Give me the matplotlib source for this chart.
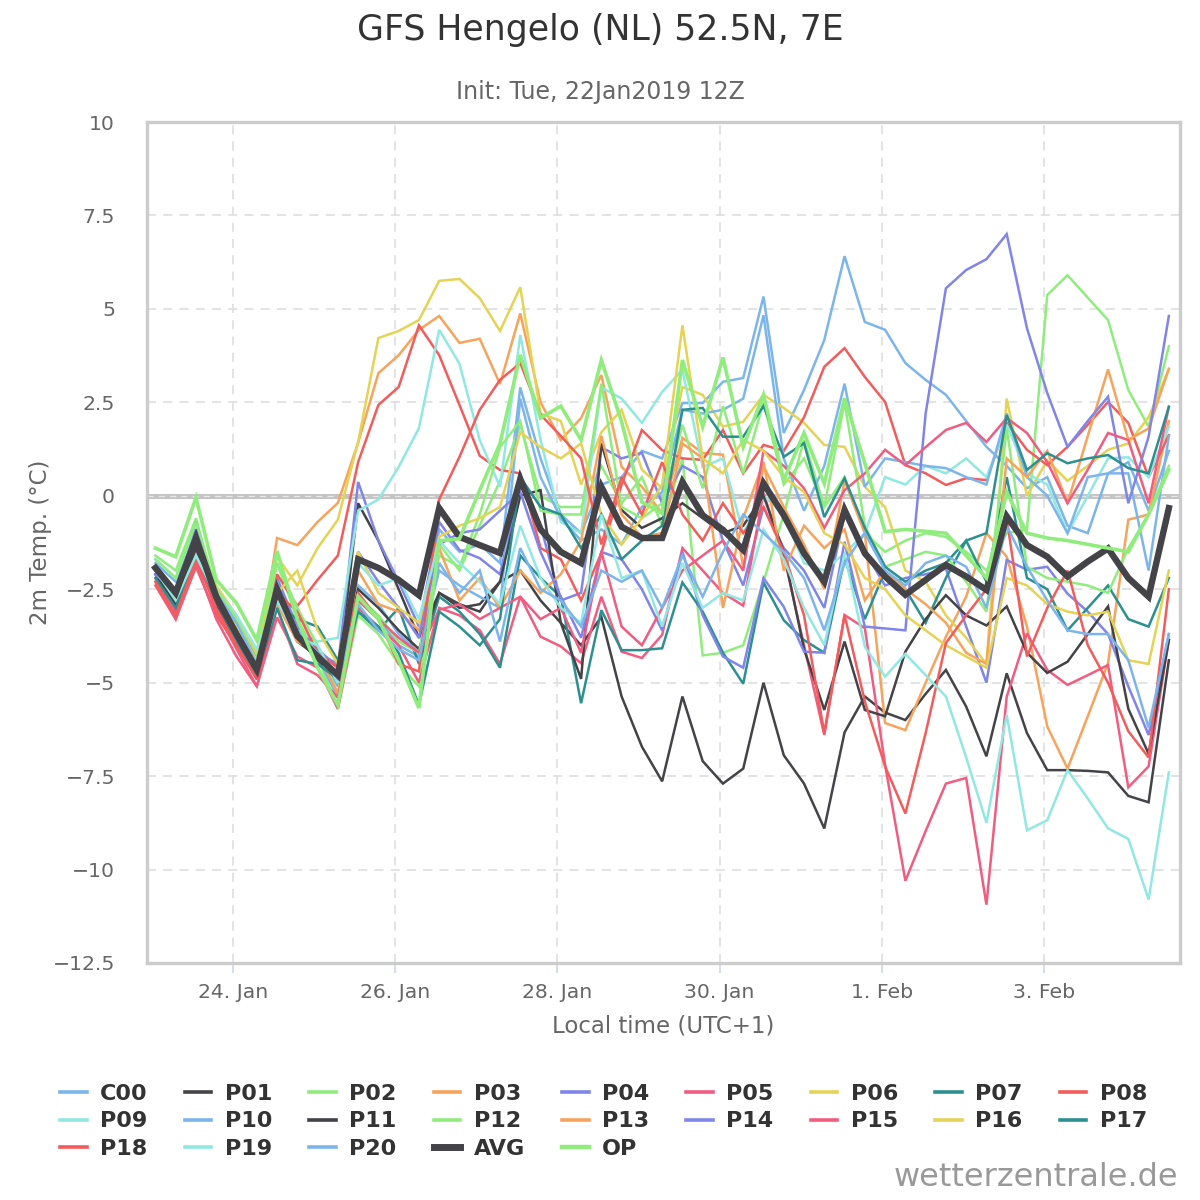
import datetime as dt
import matplotlib
matplotlib.use("Agg")
import matplotlib.pyplot as plt
from matplotlib.ticker import FixedLocator, FuncFormatter
from matplotlib.lines import Line2D
import matplotlib.dates as mdates

plt.rcParams['font.family'] = ['DejaVu Sans']

# ---------------- data ----------------
START = dt.datetime(2019, 1, 23, 1, 0)   # first value, local time (UTC+1)
STEP_HOURS = 6
N_STEPS = 51
times = [START + dt.timedelta(hours=STEP_HOURS * i) for i in range(N_STEPS)]

C00 = [-1.8, -2.3, -0.8, -2.5, -3.3, -4.3, -2.6, -3.4, -4.2, -5.1,
       -2.8, -3.3, -4.0, -4.3, -0.9, -1.5, -1.3, -1.8, 2.9, 1.0,
       -0.5, -1.0, 0.3, 0.5, 1.2, 1.0, 2.48, 2.48, 3.05, 3.15,
       5.33, 1.68, 2.83, 4.17, 6.41, 4.65, 4.44, 3.55, 3.1, 2.7,
       2.0, 1.31, 0.8, 0.2, 0.5, -0.8, -1.0, 0.6, 0.9, -0.4,
       1.2]
P01 = [-2.0, -2.7, -1.3, -2.8, -3.8, -4.8, -2.6, -3.9, -4.3, -4.9,
       -0.2, -1.2, -2.5, -3.8, -2.6, -3.0, -2.9, -2.3, -2.0, -2.8,
       -3.4, -4.0, -3.24, -5.37, -6.71, -7.64, -5.37, -7.1, -7.7, -7.3,
       -5.0, -6.94, -7.7, -8.9, -6.33, -5.37, -5.8, -6.0, -5.3, -4.66,
       -5.64, -6.97, -4.75, -6.35, -7.34, -7.34, -7.36, -7.4, -8.03, -8.2,
       -4.4]
P02 = [-1.6, -2.0, -0.6, -2.6, -3.2, -4.3, -1.8, -3.3, -4.3, -5.7,
       -3.2, -3.7, -4.5, -5.1, -1.3, -2.0, -0.8, 0.4, 1.9, 0.0,
       -0.3, -0.3, 0.8, -0.2, 0.5, -0.8, 1.0, -4.27, -4.2, -4.0,
       -2.3, -0.5, 1.5, -0.3, 0.5, -1.0, -1.5, -1.2, -1.0, -1.1,
       -1.5, -2.0, -1.0, -0.9, 5.37, 5.9, 5.3, 4.7, 2.83, 1.85,
       4.0]
P03 = [-2.2, -2.9, -1.5, -2.8, -3.6, -4.6, -1.13, -1.32, -0.7, -0.19,
       1.42, 3.28, 3.76, 4.44, 4.81, 4.09, 4.2, 2.99, 4.88, 2.5,
       1.49, 2.08, 3.23, 0.77, 0.24, -0.47, 1.55, 1.14, 1.1, -1.9,
       0.8, -0.3, -1.3, -2.5, 0.4, -1.0, -6.08, -6.27, -5.0, -3.77,
       -2.7, -1.0, -1.63, -3.5, -6.17, -7.3, -5.9, -4.48, -0.64, -0.5,
       2.0]
P04 = [-1.9, -2.5, -0.7, -2.6, -3.4, -4.4, -2.2, -3.5, -4.1, -4.6,
       0.37, -1.2, -2.3, -3.5, -0.7, -1.45, -1.67, -2.1, 0.3, -0.8,
       -2.8, -2.6, 1.3, 1.0, 1.15, -0.2, 0.8, 0.5, -1.2, -2.4,
       -0.3, -1.4, -2.0, -3.0, -0.5, -1.5, -2.4, -2.2, -2.1, -1.95,
       -3.5, -5.0, -1.72, -1.98, -1.9, -2.62, -3.1, -3.7, -5.1, -6.4,
       -3.7]
P05 = [-2.2, -3.1, -1.5, -3.1, -4.1, -5.1, -3.25, -4.3, -4.6, -5.7,
       -3.0, -3.5, -4.0, -5.0, -3.0, -3.2, -3.6, -4.5, -2.7, -3.77,
       -4.03, -4.48, -2.7, -4.17, -4.34, -3.72, -1.4, -2.0, -2.6, -2.94,
       0.08, -1.6, -4.0, -6.4, -3.19, -3.54, -7.2, -10.3, -8.97, -7.7,
       -7.55, -10.94, -5.38, -3.68, -4.66, -5.06, -4.8, -4.53, -7.8, -7.24,
       -3.86]
P06 = [-1.9, -2.5, -1.0, -2.4, -3.2, -4.2, -1.63, -2.4, -1.4, -0.64,
       1.44, 4.22, 4.41, 4.7, 5.75, 5.8, 5.29, 4.41, 5.58, 2.2,
       2.0, 0.3, 1.7, 2.3, 0.7, 0.2, 2.91, 2.7, 1.85, 1.98,
       2.7, 2.35, 1.95, 1.36, 1.31, 0.24, -0.3, -2.0, -2.3, -3.2,
       -3.8, -4.5, 2.6, 0.0, 0.95, 0.4, 0.8, 1.23, 1.4, 2.1,
       3.38]
P07 = [-2.1, -2.8, -1.3, -2.9, -3.8, -4.9, -2.9, -3.3, -3.5, -4.4,
       -3.1, -3.6, -3.0, -4.5, -2.7, -3.1, -3.7, -4.6, -1.6, -2.2,
       -2.7, -5.55, -3.06, -4.13, -4.13, -4.08, -2.32, -3.1, -4.2, -5.03,
       -2.32, -3.33, -3.86, -4.2, -1.67, -3.3, -2.0, -2.5, -3.4, -2.2,
       -1.2, -2.3, 0.5, -2.2, -2.5, -3.6, -3.0, -2.4, -3.3, -3.5,
       -2.2]
P08 = [-2.4, -3.3, -1.9, -3.2, -4.0, -4.9, -2.1, -2.95, -2.25, -1.6,
       0.9, 2.43, 2.91, 4.56, 3.76, 2.43, 1.07, 0.69, 0.6, -1.4,
       -1.7, -2.8, -1.53, 0.3, 1.76, 1.22, 1.0, 0.96, 1.76, 0.6,
       1.36, 1.2, 2.1, 3.45, 3.95, 3.18, 2.51, 0.82, 0.6, 0.29,
       0.47, 0.42, 1.95, 1.23, 0.82, 1.31, 1.9, 2.51, 1.95, 0.5,
       1.62]
P09 = [-1.7, -2.2, -0.8, -2.5, -3.2, -4.1, -2.5, -3.6, -3.9, -3.8,
       -0.4, -0.1, 0.77, 1.81, 4.44, 3.53, 1.49, 0.24, 4.3, 1.5,
       -0.7, -1.0, 2.9, 2.6, 1.95, 2.78, 3.37, 0.77, 1.0, -1.0,
       0.0, -0.5, -1.8, -2.0, -1.54, -1.0, 0.5, 0.3, 0.8, 0.6,
       1.0, 0.5, 1.9, 0.6, 0.3, -1.0, 0.0, 1.0, 1.03, 0.5,
       1.85]
P10 = [-2.0, -2.5, -0.9, -2.6, -3.5, -4.4, -2.3, -3.7, -4.3, -5.4,
       -2.4, -2.9, -3.7, -4.2, -2.0, -2.4, -2.7, -3.0, 2.6, 0.5,
       -0.6, -1.2, -0.9, -1.3, -0.3, 0.1, 2.3, 2.2, 2.3, 2.6,
       4.83, 1.0, -0.4, 0.8, 3.0, 0.24, 1.0, 0.9, 0.8, 0.74,
       0.5, 0.3, 2.2, 0.5, 0.0, -1.0, 0.5, 0.6, 0.6, -2.0,
       1.6]
P11 = [-2.1, -2.9, -1.4, -2.9, -3.9, -4.9, -2.8, -3.6, -4.4, -4.9,
       -2.5, -3.0, -3.6, -4.1, -2.6, -2.9, -3.1, -2.3, 0.0, 0.15,
       -3.4, -4.9, 1.4, -0.38, -0.86, -0.6, -0.2, -0.6, -1.0, -0.8,
       0.0, -1.5, -4.1, -5.73, -3.9, -5.73, -5.9, -4.17, -3.3, -2.66,
       -3.2, -3.47, -2.96, -4.2, -4.74, -4.44, -3.7, -2.96, -5.7, -6.9,
       -3.86]
P12 = [-1.7, -2.2, -0.7, -2.5, -3.3, -4.5, -1.8, -3.0, -4.0, -5.3,
       -2.7, -3.2, -3.9, -4.2, -1.6, -1.9, -0.5, 1.3, 2.0, -0.4,
       -0.5, -0.5, 3.0, -0.3, -0.6, -0.2, 1.9, 0.2, 2.4, 0.6,
       2.5, 0.3, 1.0, -0.3, 2.5, -0.8, -1.9, -1.7, -1.5, -1.6,
       -2.3, -3.1, 1.8, -1.9, -2.2, -2.3, -2.4, -2.6, -1.4, -0.5,
       0.8]
P13 = [-2.0, -2.6, -1.1, -2.7, -3.6, -4.7, -2.9, -3.9, -4.2, -5.3,
       -2.0, -2.9, -3.1, -3.6, -1.4, -2.8, -2.2, -3.0, -2.0, -2.6,
       -2.1, -1.2, 1.6, -0.5, -1.1, -1.0, 1.4, 1.0, -3.0, -0.6,
       0.9, -2.0, -0.8, -1.4, -0.9, -2.8, -2.0, -2.5, -2.9, -3.4,
       -4.2, -4.5, 1.0, 0.5, 1.2, -0.2, 1.6, 3.38, 1.5, 1.8,
       3.4]
P14 = [-2.1, -2.6, -0.9, -2.7, -3.6, -4.5, -2.4, -3.8, -4.2, -4.5,
       -1.5, -2.3, -3.0, -3.8, -1.3, -1.0, -0.9, -0.4, 0.1, -1.5,
       -2.7, -3.8, -1.5, -1.7, -2.5, -3.6, -1.5, -3.2, -4.3, -4.6,
       -2.2, -2.97, -4.17, -4.2, -1.23, -3.5, -3.55, -3.6, 2.2, 5.55,
       6.04, 6.33, 7.0, 4.48, 2.75, 1.31, 2.0, 2.65, -0.2, 1.58,
       4.81]
P15 = [-2.3, -3.3, -1.8, -3.3, -4.3, -5.1, -3.0, -4.5, -4.8, -5.4,
       -2.8, -3.3, -3.8, -4.2, -3.05, -2.9, -3.3, -3.0, -2.7, -3.3,
       -3.0, -4.2, -1.5, -3.5, -4.0, -3.0, -2.0, -1.6, -1.2, -2.0,
       1.2, 0.8, 0.2, -0.86, 0.15, 0.6, 1.23, 0.82, 1.3, 1.76,
       1.95, 1.44, 2.08, 1.68, 0.9, -0.2, 0.7, 1.68, 1.49, -0.2,
       2.38]
P16 = [-2.0, -2.7, -1.2, -2.7, -3.5, -4.4, -2.6, -2.0, -3.6, -4.5,
       -1.5, -2.6, -3.0, -3.4, -1.1, -0.8, -0.6, -0.3, 1.7, 1.3,
       1.0, 1.4, -0.5, -1.3, -0.6, 0.3, 4.56, 1.0, 0.6, 1.5,
       1.2, 0.5, 0.1, -1.0, -1.3, -2.2, -2.5, -3.2, -3.6, -4.0,
       -4.3, -4.6, -2.2, -2.4, -2.9, -3.1, -3.2, -3.1, -4.4, -4.5,
       -2.0]
P17 = [-2.2, -3.0, -1.6, -2.8, -3.9, -4.8, -3.0, -4.4, -4.5, -4.9,
       -3.1, -3.5, -4.2, -5.6, -3.1, -3.5, -4.0, -3.3, 0.5, -0.3,
       -0.5, -1.4, -0.5, -1.7, -1.2, -0.8, 2.3, 2.35, 1.58, 1.58,
       2.4, 1.04, 1.41, -0.57, 0.47, -0.86, -1.9, -2.3, -2.0, -1.8,
       -1.2, -1.0, 2.16, 0.69, 1.14, 0.87, 1.0, 1.09, 0.74, 0.6,
       2.38]
P18 = [-2.3, -3.2, -1.7, -3.0, -4.0, -4.9, -2.6, -3.1, -4.2, -4.6,
       -2.6, -3.3, -4.5, -4.7, -0.1, 1.04, 2.3, 3.1, 3.55, 2.17,
       1.6, 1.0, -1.3, 0.5, -0.5, 0.9, -0.5, -1.2, -0.2, -1.0,
       -0.3, -1.5, -3.2, -6.35, -3.19, -5.5, -7.24, -8.5, -6.35, -3.94,
       -3.2, -2.5, -0.6, -4.3, -3.0, -2.0, -4.0, -5.0, -6.3, -7.0,
       -2.5]
P19 = [-2.0, -2.8, -1.6, -2.7, -3.7, -4.7, -2.8, -3.8, -4.0, -5.0,
       -1.8, -2.4, -2.2, -3.3, -1.2, -1.8, -2.3, -2.9, -0.8, -2.2,
       -3.0, -3.4, -0.5, -2.2, -2.0, -3.5, -1.8, -3.0, -2.6, -2.8,
       -0.9, -1.7, -3.0, -4.0, -1.54, -4.04, -4.84, -4.23, -4.8, -5.37,
       -7.0, -8.75, -5.86, -8.95, -8.68, -7.34, -8.1, -8.9, -9.18, -10.8,
       -7.4]
P20 = [-1.9, -2.6, -1.0, -2.6, -3.4, -4.5, -2.4, -3.6, -4.2, -4.9,
       -2.9, -3.6, -4.1, -4.4, -1.8, -2.6, -2.0, -3.9, -1.4, -2.5,
       -2.8, -3.5, -2.0, -2.3, -2.0, -3.0, -1.6, -2.7, -1.5, -0.5,
       -1.0, -1.5, -2.2, -3.6, -1.8, -1.0, -2.0, -2.4, -1.8, -1.6,
       -1.9, -3.0, -0.8, -1.9, -2.8, -3.6, -3.7, -3.7, -4.4, -6.2,
       -3.7]
AVG = [-1.93, -2.6, -1.13, -2.7, -3.7, -4.65, -2.5, -3.75, -4.3, -4.8,
       -1.7, -1.93, -2.25, -2.66, -0.33, -1.1, -1.32, -1.53, 0.45, -0.9,
       -1.5, -1.8, 0.24, -0.83, -1.13, -1.13, 0.37, -0.52, -0.91, -1.45,
       0.33, -0.52, -1.54, -2.3, -0.38, -1.54, -2.16, -2.65, -2.25, -1.85,
       -2.16, -2.52, -0.55, -1.32, -1.63, -2.16, -1.76, -1.41, -2.2, -2.7,
       -0.33]
OP = [-1.4, -1.63, -0.05, -2.25, -2.87, -3.86, -1.48, -3.3, -4.6, -5.6,
      -2.7, -3.3, -4.4, -5.68, -1.2, -1.15, 0.15, 1.4, 3.77, 2.08,
      2.4, 1.49, 3.63, 1.98, -0.17, -0.47, 3.63, 1.85, 3.7, 1.31,
      2.7, 0.42, 1.68, 0.33, 2.61, 0.87, -0.96, -0.9, -0.95, -1.0,
      -1.6, -2.2, 0.1, -1.0, -1.13, -1.2, -1.3, -1.4, -1.5, -0.5,
      0.7]

member_names = ['C00', 'P01', 'P02', 'P03', 'P04', 'P05', 'P06', 'P07', 'P08', 'P09',
                'P10', 'P11', 'P12', 'P13', 'P14', 'P15', 'P16', 'P17', 'P18', 'P19', 'P20']
member_values = [C00, P01, P02, P03, P04, P05, P06, P07, P08, P09,
                 P10, P11, P12, P13, P14, P15, P16, P17, P18, P19, P20]

y_ticks = [-12.5, -10, -7.5, -5, -2.5, 0, 2.5, 5, 7.5, 10]
x_tick_dates = [dt.datetime(2019, 1, 24), dt.datetime(2019, 1, 26), dt.datetime(2019, 1, 28),
                dt.datetime(2019, 1, 30), dt.datetime(2019, 2, 1), dt.datetime(2019, 2, 3)]

for name, vals in zip(member_names + ['AVG', 'OP'], member_values + [AVG, OP]):
    if len(vals) != N_STEPS:
        raise ValueError(f"{name} has {len(vals)} values")

# ---------------- style ----------------
palette = ['#7cb5ec', '#434348', '#90ed7d', '#f7a35c', '#8085e9',
           '#f15c80', '#e4d354', '#2b908f', '#f45b5b', '#91e8e1']

W, H = 1200, 1200
fig = plt.figure(figsize=(12, 12), dpi=100)
fig.patch.set_facecolor('white')
ax_l, ax_r, ax_t, ax_b = 147, 1180, 122, 963
ax = fig.add_axes([ax_l / W, 1 - ax_b / H, (ax_r - ax_l) / W, (ax_b - ax_t) / H])

handles = []
for k, (name, vals) in enumerate(zip(member_names, member_values)):
    col = palette[k % len(palette)]
    ax.plot(times, vals, color=col, lw=1.8, solid_joinstyle='miter', zorder=3)
    handles.append(Line2D([], [], color=col, lw=2.6))
ax.plot(times, AVG, color='#434348', lw=4.6, solid_joinstyle='miter', zorder=4)
handles.append(Line2D([], [], color='#434348', lw=5.0))
ax.plot(times, OP, color='#90ed7d', lw=2.6, solid_joinstyle='miter', zorder=5)
handles.append(Line2D([], [], color='#90ed7d', lw=3.2))
labels = member_names + ['AVG', 'OP']

# axis ranges
ax.set_ylim(-12.5, 10)
ax.set_xlim(START - dt.timedelta(hours=2.5), times[-1] + dt.timedelta(hours=3.3))

# grid
ax.yaxis.set_major_locator(FixedLocator(y_ticks))
ax.xaxis.set_major_locator(FixedLocator([mdates.date2num(d) for d in x_tick_dates]))
ax.grid(True, color='#e0e0e0', lw=1.3, linestyle=(0, (5, 4)), zorder=0)
ax.set_axisbelow(True)
ax.axhline(0, color='#c4c4c4', lw=3.6, zorder=1)
ax.axhline(0, color='#e8e8e8', lw=0.9, linestyle=(0, (5, 4)), zorder=1.1)

# tick labels
def yfmt(v, pos):
    s = f"{v:g}"
    return s.replace('-', '\u2212')
ax.yaxis.set_major_formatter(FuncFormatter(yfmt))

def xfmt(v, pos):
    d = mdates.num2date(v)
    return f"{d.day}. {d.strftime('%b')}"
ax.xaxis.set_major_formatter(FuncFormatter(xfmt))

ax.tick_params(axis='y', length=0, pad=23, labelsize=14.7, labelcolor='#666666')
ax.tick_params(axis='x', length=7, width=1.2, color='#ccd6eb', pad=7.5,
               labelsize=14.7, labelcolor='#666666')

for sp in ax.spines.values():
    sp.set_color('#cccccc')
    sp.set_linewidth(2.4)

ax.set_ylabel('2m Temp. (\u00b0C)', fontsize=16.5, color='#666666')
ax.yaxis.set_label_coords(-0.092, 0.5)
ax.set_xlabel('Local time (UTC+1)', fontsize=16.5, color='#666666')
ax.xaxis.set_label_coords(0.5, -0.061)

# titles
fig.text(0.5, 1 - 30 / H, 'GFS Hengelo (NL) 52.5N, 7E', ha='center', va='center',
         fontsize=25, color='#333333')
fig.text(0.5, 1 - 92 / H, 'Init: Tue, 22Jan2019 12Z', ha='center', va='center',
         fontsize=17, color='#666666')

# legend (row-major order as in reference)
ncol = 9
order = []
for j in range(ncol):
    r = j
    while r < len(labels):
        order.append(r)
        r += ncol
leg = fig.legend([handles[i] for i in order], [labels[i] for i in order],
                 ncol=ncol, loc='upper center', bbox_to_anchor=(0.503, 1 - 1073 / H),
                 frameon=False, prop={'weight': 'bold', 'size': 16},
                 labelcolor='#333333', handlelength=1.2, handletextpad=0.6,
                 columnspacing=1.67, labelspacing=0.33, borderpad=0)

fig.text(1178 / W, 1 - 1177 / H, 'wetterzentrale.de', ha='right', va='center',
         fontsize=23, color='#999999')

fig.savefig('out.png', dpi=100, facecolor='white')
